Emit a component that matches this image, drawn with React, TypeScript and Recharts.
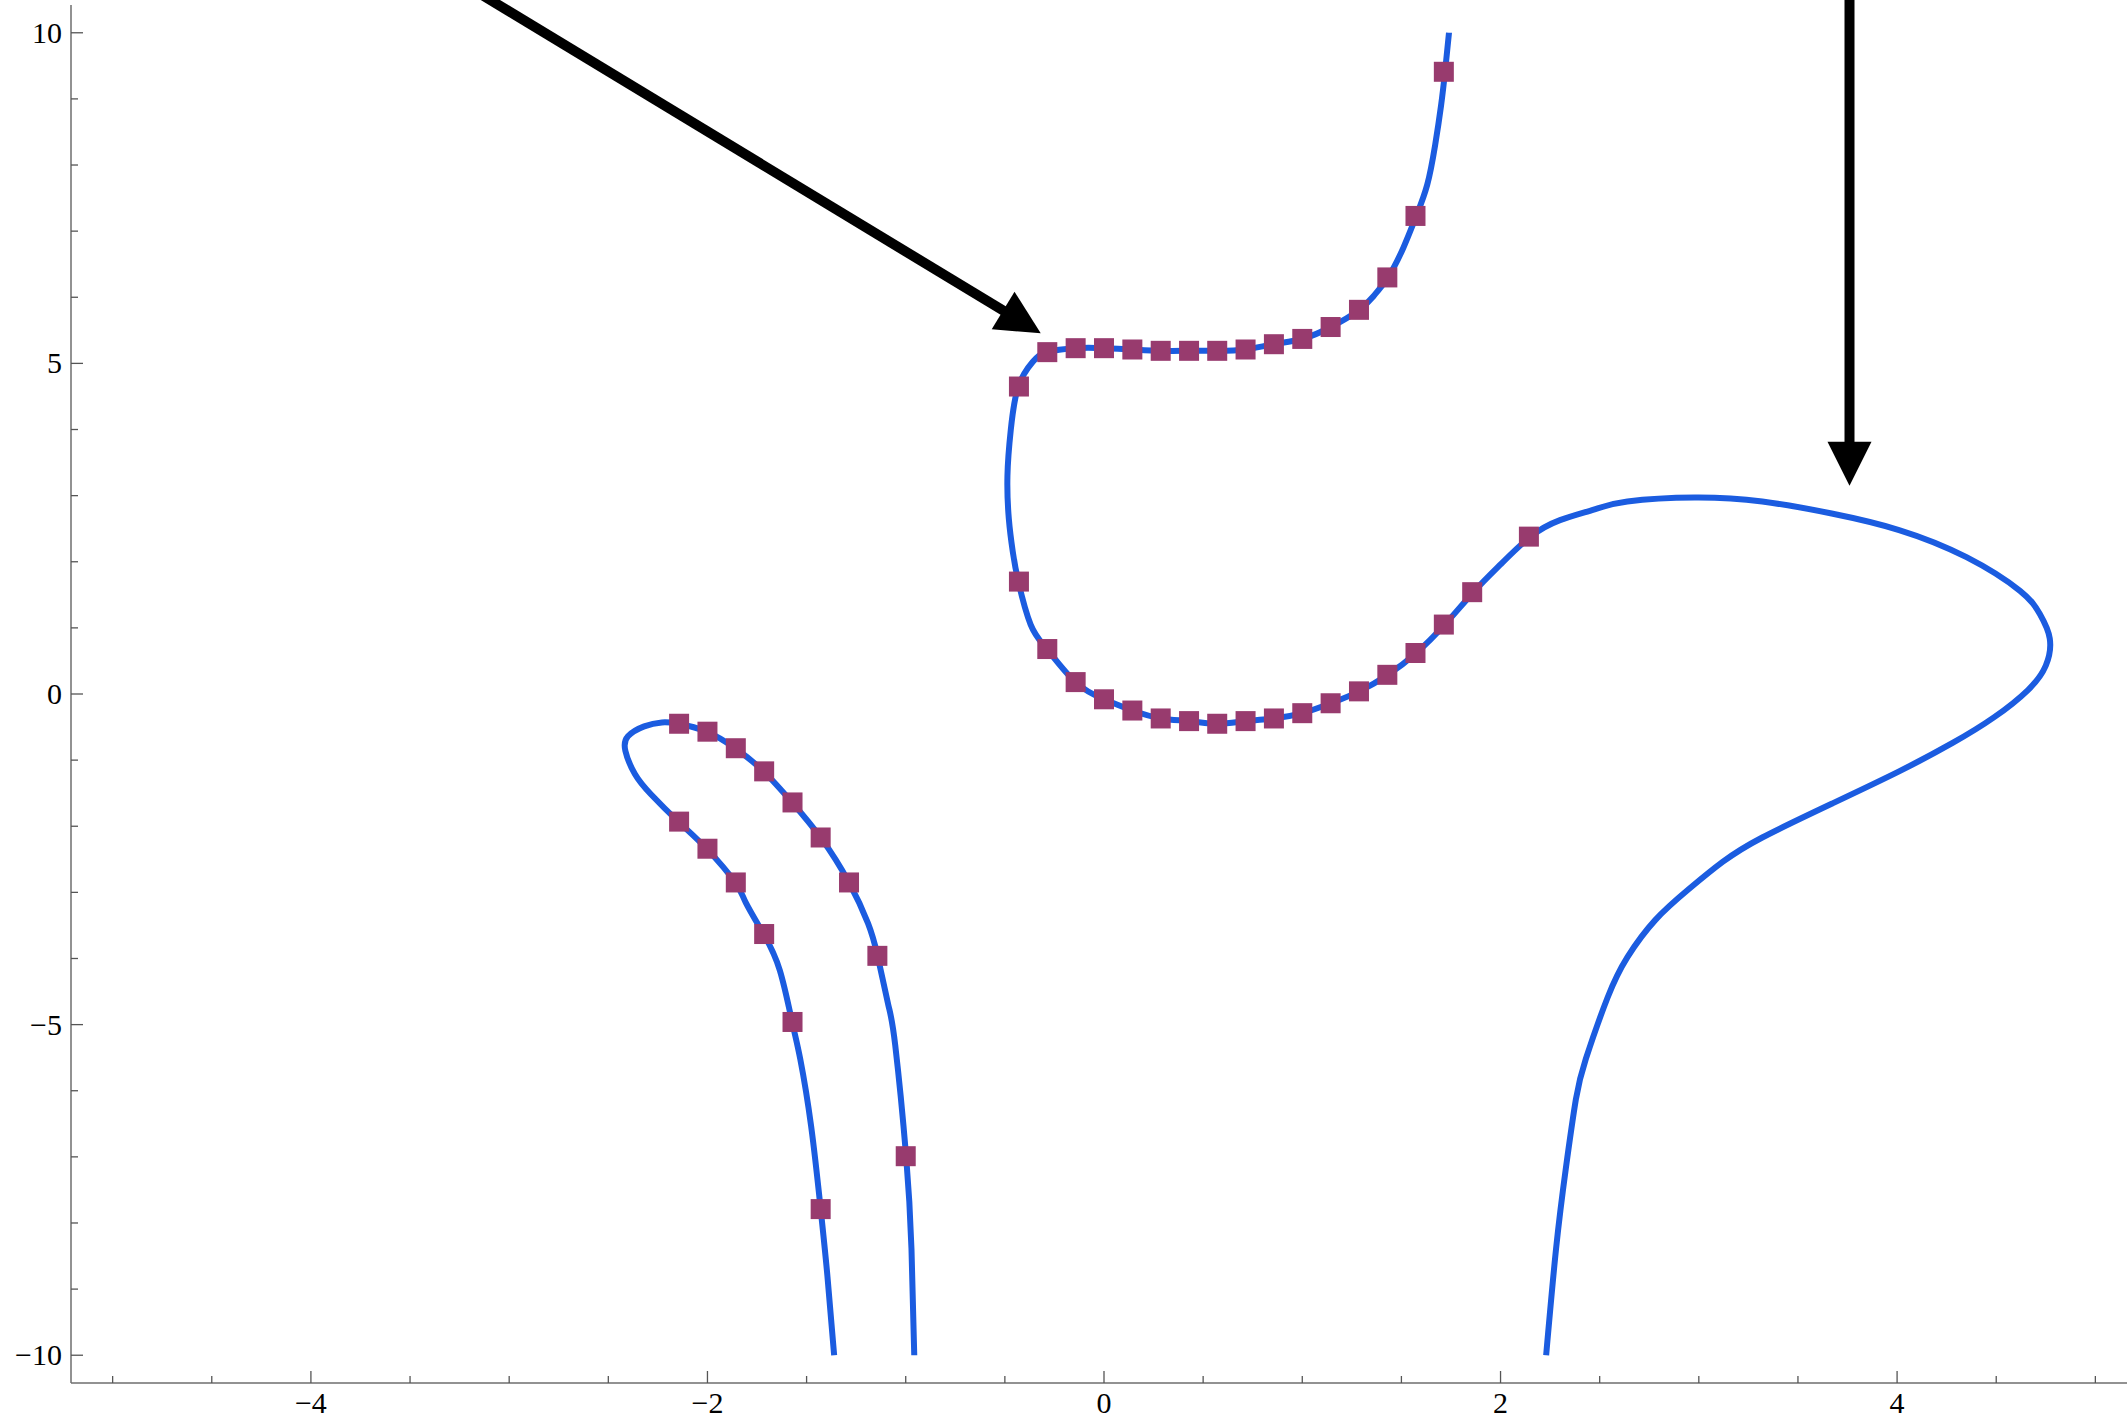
import React from "react";
import {
  ScatterChart,
  Scatter,
  XAxis,
  YAxis,
  ReferenceLine,
} from "recharts";

// curve through the upper region, then around the big loop on the right
const upperCurve = [
  { x: 1.74, y: 10.0 }, { x: 1.72, y: 9.41 }, { x: 1.7, y: 8.9 }, { x: 1.67, y: 8.3 },
  { x: 1.63, y: 7.7 }, { x: 1.575, y: 7.23 }, { x: 1.51, y: 6.75 }, { x: 1.432, y: 6.3 },
  { x: 1.36, y: 6.02 }, { x: 1.288, y: 5.81 }, { x: 1.144, y: 5.55 }, { x: 1.0, y: 5.37 },
  { x: 0.856, y: 5.29 }, { x: 0.712, y: 5.21 }, { x: 0.575, y: 5.19 }, { x: 0.432, y: 5.19 },
  { x: 0.288, y: 5.19 }, { x: 0.144, y: 5.21 }, { x: 0.0, y: 5.23 }, { x: -0.144, y: 5.23 },
  { x: -0.288, y: 5.17 }, { x: -0.36, y: 5.02 }, { x: -0.432, y: 4.65 }, { x: -0.47, y: 4.0 },
  { x: -0.487, y: 3.3 }, { x: -0.48, y: 2.65 }, { x: -0.46, y: 2.15 }, { x: -0.432, y: 1.7 },
  { x: -0.37, y: 1.05 }, { x: -0.288, y: 0.68 }, { x: -0.144, y: 0.18 }, { x: 0.0, y: -0.08 },
  { x: 0.144, y: -0.25 }, { x: 0.288, y: -0.37 }, { x: 0.432, y: -0.41 }, { x: 0.575, y: -0.45 },
  { x: 0.712, y: -0.41 }, { x: 0.856, y: -0.37 }, { x: 1.0, y: -0.29 }, { x: 1.144, y: -0.14 },
  { x: 1.288, y: 0.04 }, { x: 1.432, y: 0.29 }, { x: 1.575, y: 0.62 }, { x: 1.719, y: 1.05 },
  { x: 1.863, y: 1.54 }, { x: 2.0, y: 1.96 }, { x: 2.151, y: 2.38 }, { x: 2.3, y: 2.63 },
  { x: 2.47, y: 2.79 }, { x: 2.64, y: 2.91 }, { x: 2.98, y: 2.97 }, { x: 3.32, y: 2.91 },
  { x: 3.67, y: 2.73 }, { x: 4.01, y: 2.48 }, { x: 4.35, y: 2.07 }, { x: 4.62, y: 1.56 },
  { x: 4.72, y: 1.21 }, { x: 4.77, y: 0.84 }, { x: 4.75, y: 0.43 }, { x: 4.66, y: 0.06 },
  { x: 4.49, y: -0.35 }, { x: 4.28, y: -0.74 }, { x: 4.01, y: -1.17 }, { x: 3.67, y: -1.66 },
  { x: 3.32, y: -2.17 }, { x: 3.12, y: -2.54 }, { x: 2.95, y: -2.95 }, { x: 2.78, y: -3.42 },
  { x: 2.64, y: -3.98 }, { x: 2.54, y: -4.59 }, { x: 2.43, y: -5.52 }, { x: 2.38, y: -6.13 },
  { x: 2.33, y: -7.16 }, { x: 2.28, y: -8.39 }, { x: 2.23, y: -10.0 },
];

// the loop at the lower left
const lowerCurve = [
  { x: -1.361, y: -10.0 }, { x: -1.395, y: -8.8 }, { x: -1.429, y: -7.79 }, { x: -1.477, y: -6.54 },
  { x: -1.532, y: -5.52 }, { x: -1.573, y: -4.96 }, { x: -1.635, y: -4.18 }, { x: -1.717, y: -3.63 },
  { x: -1.806, y: -3.16 }, { x: -1.86, y: -2.85 }, { x: -2.004, y: -2.34 }, { x: -2.147, y: -1.93 },
  { x: -2.284, y: -1.52 }, { x: -2.366, y: -1.21 }, { x: -2.414, y: -0.86 }, { x: -2.401, y: -0.64 },
  { x: -2.319, y: -0.49 }, { x: -2.23, y: -0.43 }, { x: -2.147, y: -0.45 }, { x: -2.004, y: -0.57 },
  { x: -1.86, y: -0.82 }, { x: -1.717, y: -1.17 }, { x: -1.573, y: -1.64 }, { x: -1.429, y: -2.17 },
  { x: -1.286, y: -2.85 }, { x: -1.19, y: -3.47 }, { x: -1.142, y: -3.96 }, { x: -1.088, y: -4.7 },
  { x: -1.053, y: -5.31 }, { x: -0.998, y: -6.99 }, { x: -0.971, y: -8.39 }, { x: -0.957, y: -10.0 },
];

const upperMarkers = [
  { x: 1.714, y: 9.41 }, { x: 1.571, y: 7.23 }, { x: 1.429, y: 6.3 }, { x: 1.286, y: 5.81 },
  { x: 1.143, y: 5.55 }, { x: 1.0, y: 5.37 }, { x: 0.857, y: 5.29 }, { x: 0.714, y: 5.21 },
  { x: 0.571, y: 5.19 }, { x: 0.429, y: 5.19 }, { x: 0.286, y: 5.19 }, { x: 0.143, y: 5.21 },
  { x: 0.0, y: 5.23 }, { x: -0.143, y: 5.23 }, { x: -0.286, y: 5.17 }, { x: -0.429, y: 4.65 },
  { x: -0.429, y: 1.7 }, { x: -0.286, y: 0.68 }, { x: -0.143, y: 0.18 }, { x: 0.0, y: -0.08 },
  { x: 0.143, y: -0.25 }, { x: 0.286, y: -0.37 }, { x: 0.429, y: -0.41 }, { x: 0.571, y: -0.45 },
  { x: 0.714, y: -0.41 }, { x: 0.857, y: -0.37 }, { x: 1.0, y: -0.29 }, { x: 1.143, y: -0.14 },
  { x: 1.286, y: 0.04 }, { x: 1.429, y: 0.29 }, { x: 1.571, y: 0.62 }, { x: 1.714, y: 1.05 },
  { x: 1.857, y: 1.54 }, { x: 2.143, y: 2.38 },
];

const lowerMarkers = [
  { x: -2.143, y: -1.93 }, { x: -2.0, y: -2.34 }, { x: -1.857, y: -2.85 }, { x: -1.714, y: -3.63 },
  { x: -1.571, y: -4.96 }, { x: -1.429, y: -7.79 },
  { x: -2.143, y: -0.45 }, { x: -2.0, y: -0.57 }, { x: -1.857, y: -0.82 }, { x: -1.714, y: -1.17 },
  { x: -1.571, y: -1.64 }, { x: -1.429, y: -2.17 }, { x: -1.286, y: -2.85 }, { x: -1.143, y: -3.96 },
  { x: -1.0, y: -6.99 },
];

// annotation arrows: start -> tip
const arrows = [
  { from: { x: -3.18, y: 10.65 }, to: { x: -0.319, y: 5.455 } },
  { from: { x: 3.76, y: 10.65 }, to: { x: 3.76, y: 3.15 } },
];

const xTicks = [-5, -4.5, -4, -3.5, -3, -2.5, -2, -1.5, -1, -0.5, 0, 0.5, 1, 1.5, 2, 2.5, 3, 3.5, 4, 4.5, 5];
const xLabels = [-4, -2, 0, 2, 4];
const yTicks = [-10, -9, -8, -7, -6, -5, -4, -3, -2, -1, 0, 1, 2, 3, 4, 5, 6, 7, 8, 9, 10];
const yLabels = [-10, -5, 0, 5, 10];

const FONT = "'Liberation Serif', 'DejaVu Serif', serif";
const FRAME = "#6e6e6e";
const TICK = "#555";
const BLUE = "#1b5ce0";
const PLUM = "#983b6e";

const fmt = (v: number) => (v < 0 ? "\u2212" + Math.abs(v) : String(v));

const labelStyle = { fontFamily: FONT, fontSize: 30 };

const makeTick = (side: "bottom" | "top" | "left" | "right", labels: number[]) => (props: any) => {
  const { x, y, payload } = props;
  const v = payload.value;
  const major = labels.includes(v);
  const len = major ? 12 : 7;
  let line;
  if (side === "bottom") line = <line x1={x} x2={x} y1={y} y2={y - len} />;
  else if (side === "top") line = <line x1={x} x2={x} y1={y} y2={y + len} />;
  else if (side === "left") line = <line x1={x} x2={x + len} y1={y} y2={y} />;
  else line = <line x1={x} x2={x - len} y1={y} y2={y} />;
  return (
    <g>
      <g stroke={TICK} strokeWidth={1.3}>{line}</g>
      {major && side === "bottom" && (
        <text x={x} y={y + 30} textAnchor="middle" style={labelStyle} fill="#000">
          {fmt(v)}
        </text>
      )}
      {major && side === "left" && (
        <text x={x - 9} y={y + 10} textAnchor="end" style={labelStyle} fill="#000">
          {fmt(v)}
        </text>
      )}
    </g>
  );
};

const hidden = () => <g />;
const square = (props: any) => (
  <rect x={props.cx - 10} y={props.cy - 10} width={20} height={20} fill={PLUM} />
);

const arrowShape = (props: any) => {
  const { x1, y1, x2, y2 } = props;
  const dx = x2 - x1;
  const dy = y2 - y1;
  const d = Math.sqrt(dx * dx + dy * dy);
  const ux = dx / d;
  const uy = dy / d;
  const head = 44;
  const half = 22;
  const bx = x2 - ux * head;
  const by = y2 - uy * head;
  const pts = `${x2},${y2} ${bx - uy * half},${by + ux * half} ${bx + uy * half},${by - ux * half}`;
  return (
    <g>
      <line x1={x1} y1={y1} x2={bx + ux * 2} y2={by + uy * 2} stroke="#000" strokeWidth={10} />
      <polygon points={pts} fill="#000" />
    </g>
  );
};

export default function App() {
  const xDomain: [number, number] = [-5.21, 5.21];
  const yDomain: [number, number] = [-10.42, 10.42];
  return (
    <div
      style={{
        position: "absolute",
        left: 0,
        top: 0,
        width: 2127,
        height: 1420,
        overflow: "hidden",
        background: "#fff",
      }}
    >
      <ScatterChart width={2150} height={1420} margin={{ top: 5, right: 13, bottom: 0, left: 0 }}>
        <XAxis
          type="number"
          dataKey="x"
          domain={xDomain}
          allowDataOverflow
          ticks={xTicks}
          interval={0}
          height={37}
          tickSize={0}
          tickMargin={0}
          tickLine={false}
          axisLine={{ stroke: FRAME, strokeWidth: 1.5 }}
          tick={makeTick("bottom", xLabels)}
        />
        <XAxis
          xAxisId="top"
          orientation="top"
          type="number"
          dataKey="x"
          domain={xDomain}
          allowDataOverflow
          ticks={xTicks}
          interval={0}
          height={0}
          tickSize={0}
          tickMargin={0}
          tickLine={false}
          axisLine={{ stroke: FRAME, strokeWidth: 1.5 }}
          tick={makeTick("top", xLabels)}
        />
        <YAxis
          type="number"
          dataKey="y"
          domain={yDomain}
          allowDataOverflow
          ticks={yTicks}
          interval={0}
          width={71}
          tickSize={0}
          tickMargin={0}
          tickLine={false}
          axisLine={{ stroke: FRAME, strokeWidth: 1.5 }}
          tick={makeTick("left", yLabels)}
        />
        <YAxis
          yAxisId="right"
          orientation="right"
          type="number"
          dataKey="y"
          domain={yDomain}
          allowDataOverflow
          ticks={yTicks}
          interval={0}
          width={0}
          tickSize={0}
          tickMargin={0}
          tickLine={false}
          axisLine={{ stroke: FRAME, strokeWidth: 1.5 }}
          tick={makeTick("right", yLabels)}
        />
        <Scatter
          data={upperCurve}
          fill={BLUE}
          line={{ stroke: BLUE, strokeWidth: 6, strokeLinejoin: "round" }}
          lineType="joint"
          lineJointType="natural"
          shape={hidden}
          isAnimationActive={false}
        />
        <Scatter
          data={lowerCurve}
          fill={BLUE}
          line={{ stroke: BLUE, strokeWidth: 6, strokeLinejoin: "round" }}
          lineType="joint"
          lineJointType="natural"
          shape={hidden}
          isAnimationActive={false}
        />
        <Scatter data={upperMarkers} fill={PLUM} shape={square} isAnimationActive={false} />
        <Scatter data={lowerMarkers} fill={PLUM} shape={square} isAnimationActive={false} />
        {arrows.map((a, i) => (
          <ReferenceLine
            key={i}
            segment={[a.from, a.to]}
            ifOverflow="visible"
            shape={arrowShape}
          />
        ))}
      </ScatterChart>
    </div>
  );
}
